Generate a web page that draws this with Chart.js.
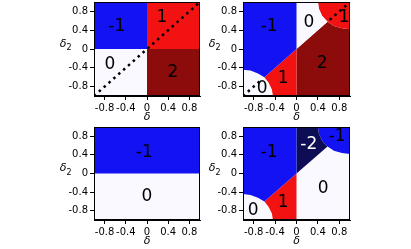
<!DOCTYPE html>
<html>
<head>
<meta charset="utf-8">
<script src="https://cdn.jsdelivr.net/npm/chart.js@4.4.1/dist/chart.umd.min.js"></script>
<style>
  html, body { margin: 0; padding: 0; background: #fff; width: 411px; height: 249px; overflow: hidden; }
  canvas { position: absolute; }
</style>
</head>
<body>
<canvas id="c1" width="175" height="124" style="left:44px;top:0px"></canvas>
<canvas id="c2" width="175" height="124" style="left:193px;top:0px"></canvas>
<canvas id="c3" width="175" height="123" style="left:44px;top:125px"></canvas>
<canvas id="c4" width="175" height="123" style="left:193px;top:125px"></canvas>
<script>
// ticks, both axes
const tickVals = [-0.8, -0.4, 0, 0.4, 0.8];
const tickText = ['-0.8', '-0.4', '0', '0.4', '0.8'];

// straight regions (panels 1 and 3)
const quadTL = [[-1, 1], [0, 1], [0, 0], [-1, 0]];
const quadTR = [[0, 1], [1, 1], [1, 0], [0, 0]];
const quadBL = [[-1, 0], [0, 0], [0, -1], [-1, -1]];
const quadBR = [[0, 0], [1, 0], [1, -1], [0, -1]];
const halfTop = [[-1, 1], [1, 1], [1, 0], [-1, 0]];
const halfBottom = [[-1, 0], [1, 0], [1, -1], [-1, -1]];

// curved regions (panels 2 and 4)
const leftUpper = [[-1, 1], [0, 1], [0, 0], [-0.6, -0.6], [-0.72, -0.52], [-0.86, -0.46], [-1, -0.44]];
const leftWedge = [[0, 0], [0, -1], [-0.44, -1], [-0.46, -0.86], [-0.52, -0.72], [-0.6, -0.6]];
const cornerLow = [[-1, -1], [-1, -0.44], [-0.86, -0.46], [-0.72, -0.52], [-0.6, -0.6], [-0.52, -0.72], [-0.46, -0.86], [-0.44, -1]];
const topWedge = [[0, 1], [0.4, 1], [0.42, 0.85], [0.48, 0.7], [0.58, 0.58], [0, 0]];
const cornerHigh = [[0.4, 1], [1, 1], [1, 0.42], [0.85, 0.44], [0.7, 0.49], [0.58, 0.58], [0.48, 0.7], [0.42, 0.85]];
const rightBlock = [[0, 0], [0.58, 0.58], [0.7, 0.49], [0.85, 0.44], [1, 0.42], [1, -1], [0, -1]];

const BLUE = '#1212f2';
const RED = '#f21212';
const DARK = '#8c0b0b';
const NAVY = '#0d0d55';
const PALE = '#f9f9ff';

// panel 1
const p1Regions = [quadTL, quadTR, quadBL, quadBR];
const p1Colors = [BLUE, RED, PALE, DARK];
const p1Dots = [[[-1, -1], [1, 1]]];
const p1Text = ['-1', '1', '0', '2'];
const p1X = [-0.57, 0.28, -0.7, 0.49];
const p1Y = [0.47, 0.66, -0.34, -0.51];

// panel 2
const p2Regions = [leftUpper, leftWedge, cornerLow, topWedge, cornerHigh, rightBlock];
const p2Colors = [BLUE, RED, PALE, PALE, RED, DARK];
const p2Dots = [[[-1, -1], [-0.66, -0.66]], [[0.62, 0.62], [1, 1]]];
const p2Text = ['-1', '0', '1', '2', '1', '0'];
const p2X = [-0.51, 0.23, 0.89, 0.48, -0.25, -0.64];
const p2Y = [0.47, 0.57, 0.66, -0.3, -0.62, -0.85];

// panel 3
const p3Regions = [halfTop, halfBottom];
const p3Colors = [BLUE, PALE];
const p3Text = ['-1', '0'];
const p3X = [-0.05, 0.0];
const p3Y = [0.46, -0.5];

// panel 4
const p4Regions = [leftUpper, leftWedge, cornerLow, topWedge, cornerHigh, rightBlock];
const p4Colors = [BLUE, RED, PALE, NAVY, BLUE, PALE];
const p4Text = ['-1', '-2', '-1', '0', '1', '0'];
const p4X = [-0.51, 0.23, 0.76, 0.5, -0.25, -0.81];
const p4Y = [0.46, 0.63, 0.79, -0.32, -0.63, -0.8];
const p4TextColors = ['#000', '#fff', '#000', '#000', '#000', '#000'];

Chart.defaults.font.family = '"DejaVu Sans", sans-serif';
Chart.defaults.font.size = 10;
Chart.defaults.color = '#000';

// region labels, top/right spines and axis labels
const panelDecor = {
    id: 'panelDecor',
    afterDatasetsDraw(chart, args, opts) {
        const { ctx, chartArea: a, scales: { x, y } } = chart;
        ctx.save();
        ctx.font = '17px "DejaVu Sans"';
        ctx.textAlign = 'center';
        ctx.textBaseline = 'middle';
        opts.text.forEach((t, i) => {
            ctx.fillStyle = opts.colors ? opts.colors[i] : '#000';
            ctx.fillText(t, x.getPixelForValue(opts.xs[i]), y.getPixelForValue(opts.ys[i]));
        });
        ctx.strokeStyle = '#000';
        ctx.lineWidth = 1;
        ctx.strokeRect(a.left + 0.5, a.top + 0.5, a.width - 1, a.height - 1);

        const cx = (a.left + a.right) / 2;
        const cy = (a.top + a.bottom) / 2;
        ctx.fillStyle = '#000';
        ctx.font = 'italic 11px "DejaVu Sans"';
        ctx.fillText('δ', cx, a.bottom + 21);
        ctx.fillText('δ', a.left - 31, cy - 5);
        ctx.font = '8px "DejaVu Sans"';
        ctx.fillText('2', a.left - 25, cy - 1);
        ctx.restore();
    }
};

function axis(pos) {
    return {
        type: 'linear',
        position: pos,
        min: -1,
        max: 1,
        afterBuildTicks: s => { s.ticks = tickVals.map(v => ({ value: v })); },
        afterFit: s => {
            if (pos === 'left') s.width = 50; else s.height = 28;
            s.paddingTop = 0; s.paddingBottom = 0; s.paddingLeft = 0; s.paddingRight = 0;
        },
        ticks: { callback: (v, i) => tickText[i], padding: 2, autoSkip: false, maxRotation: 0, color: '#000' },
        grid: { drawOnChartArea: false, tickLength: 4, color: '#000', tickWidth: 1 },
        border: { display: true, color: '#000', width: 1 }
    };
}

function makePanel(id, regions, colors, dots, text, xs, ys, textColors, plotW) {
    const datasets = [];
    dots.forEach(seg => {
        datasets.push({
            data: seg.map(p => ({ x: p[0], y: p[1] })),
            borderColor: '#000',
            borderWidth: 2.5,
            borderDash: [2.5, 4],
            pointRadius: 0,
            fill: false
        });
    });
    regions.forEach((pts, i) => {
        const closed = pts.concat([pts[0]]);
        datasets.push({
            data: closed.map(p => ({ x: p[0], y: p[1] })),
            backgroundColor: colors[i],
            borderColor: 'rgba(0,0,0,0)',
            borderWidth: 1,
            pointRadius: 0,
            tension: 0,
            fill: 'shape'
        });
    });
    const canvas = document.getElementById(id);
    new Chart(canvas, {
        type: 'line',
        data: { datasets },
        options: {
            responsive: false,
            animation: false,
            events: [],
            layout: { padding: { top: 2, left: 0, right: canvas.width - 50 - plotW, bottom: 0 } },
            scales: { x: axis('bottom'), y: axis('left') },
            plugins: {
                legend: { display: false },
                tooltip: { enabled: false },
                panelDecor: { text, xs, ys, colors: textColors }
            }
        },
        plugins: [panelDecor]
    });
}

makePanel('c1', p1Regions, p1Colors, p1Dots, p1Text, p1X, p1Y, null, 106);
makePanel('c2', p2Regions, p2Colors, p2Dots, p2Text, p2X, p2Y, null, 107);
makePanel('c3', p3Regions, p3Colors, [], p3Text, p3X, p3Y, null, 106);
makePanel('c4', p4Regions, p4Colors, [], p4Text, p4X, p4Y, p4TextColors, 107);
</script>
</body>
</html>
